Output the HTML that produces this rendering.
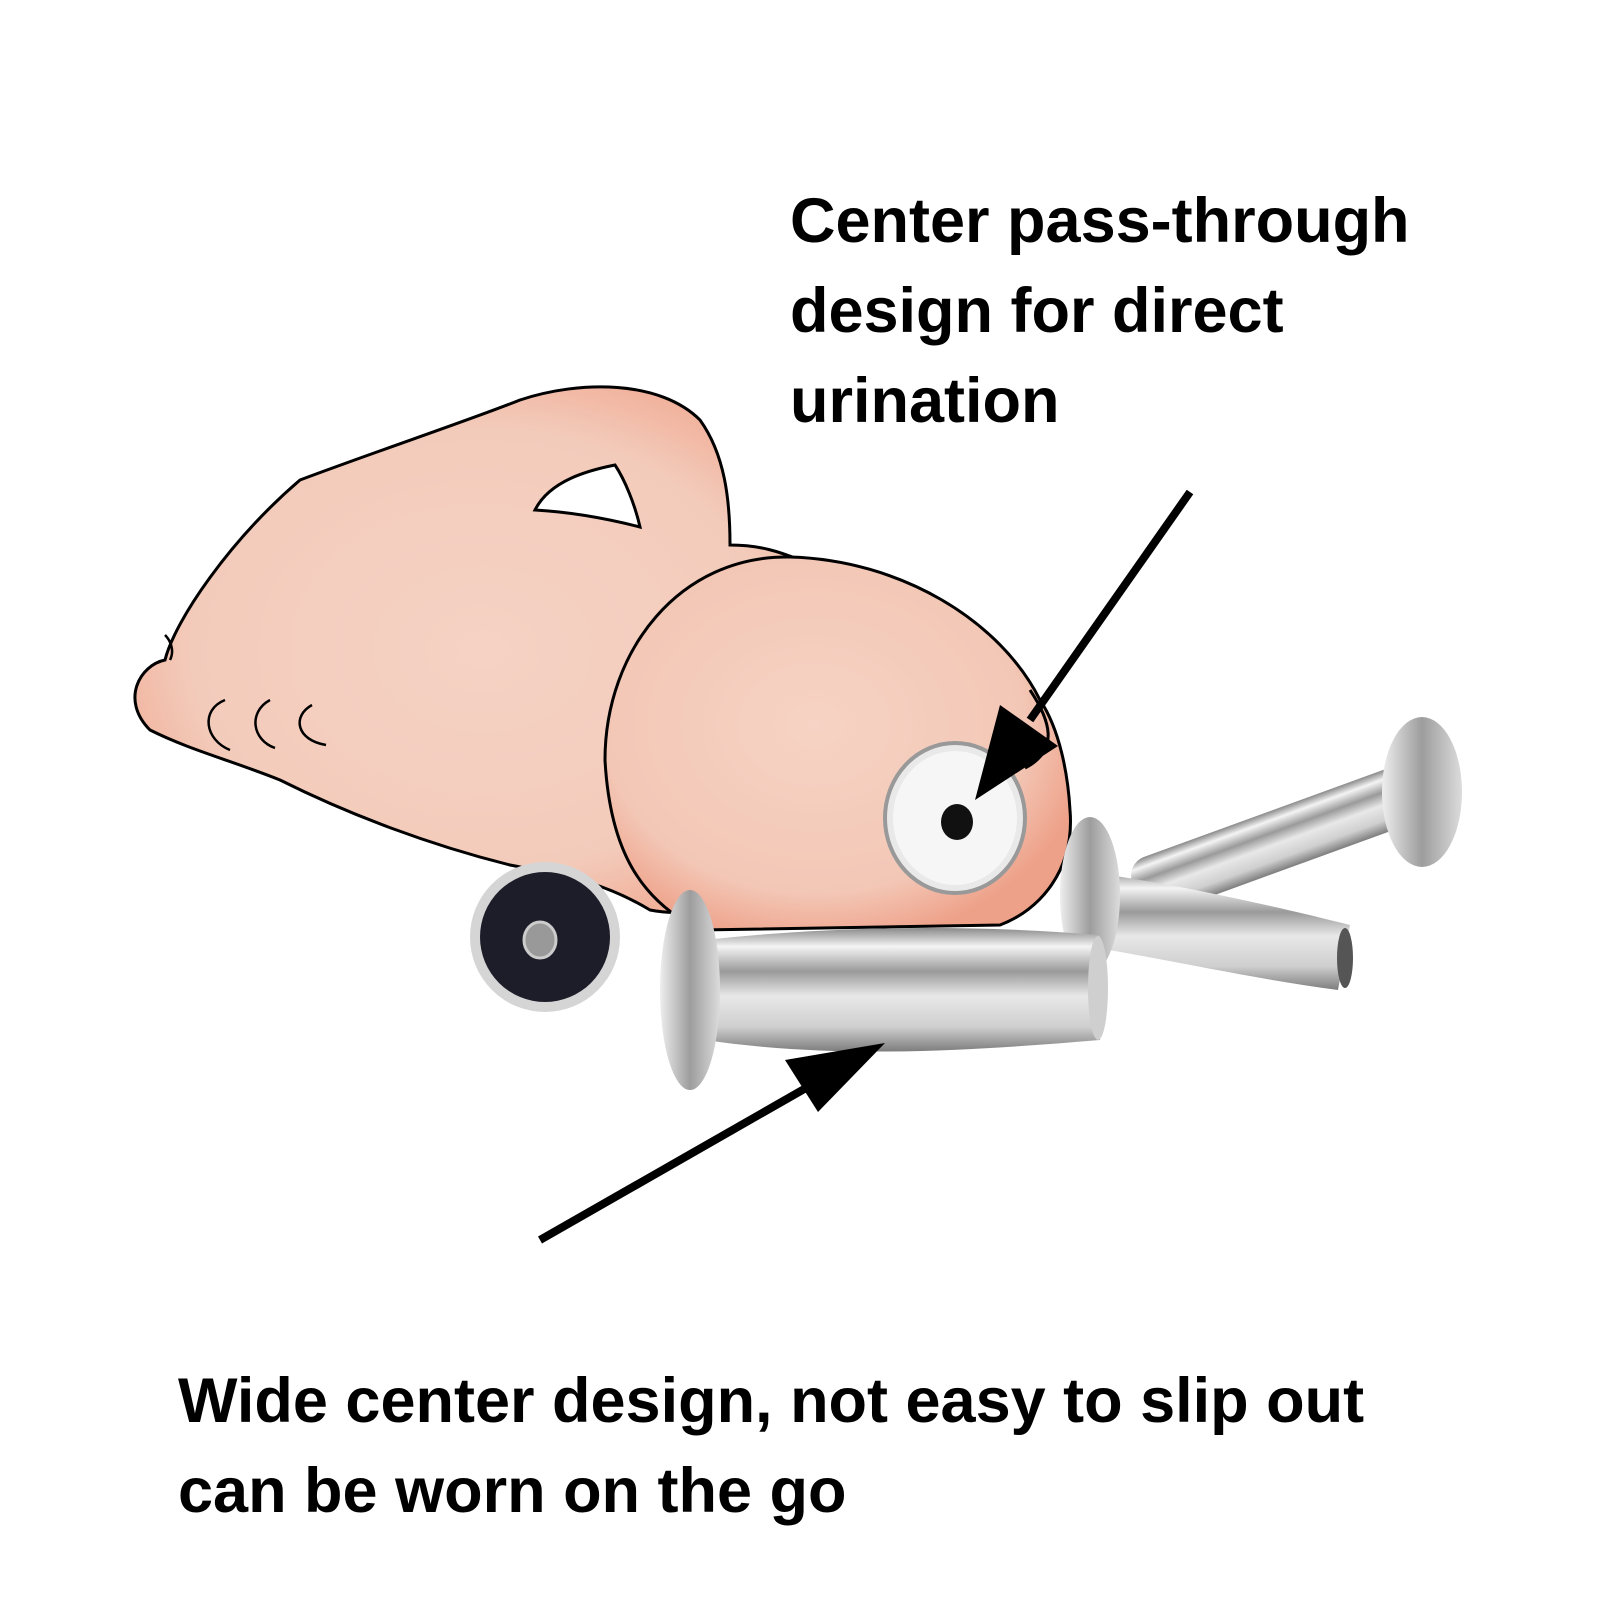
<!DOCTYPE html>
<html><head><style>
html,body{margin:0;padding:0;background:#fff;}
svg{display:block}
text{font-family:"Liberation Sans","DejaVu Sans",sans-serif;font-weight:bold;fill:#000}
</style></head><body>
<svg width="1600" height="1600" viewBox="0 0 1600 1600" xmlns="http://www.w3.org/2000/svg">
<defs>
<radialGradient id="skin" cx="50%" cy="50%" r="60%">
<stop offset="0" stop-color="#f5d2c4"/><stop offset="0.7" stop-color="#f3cbbb"/><stop offset="1" stop-color="#f0a78e"/>
</radialGradient>
<radialGradient id="head" cx="45%" cy="45%" r="60%">
<stop offset="0" stop-color="#f6d3c4"/><stop offset="0.75" stop-color="#f3c7b6"/><stop offset="1" stop-color="#eea189"/>
</radialGradient>
<linearGradient id="metal" x1="0" y1="0" x2="0" y2="1">
<stop offset="0" stop-color="#8a8a8a"/><stop offset="0.15" stop-color="#f4f4f4"/><stop offset="0.35" stop-color="#9a9a9a"/><stop offset="0.55" stop-color="#e8e8e8"/><stop offset="0.8" stop-color="#cfcfcf"/><stop offset="1" stop-color="#7d7d7d"/>
</linearGradient>
<linearGradient id="cap" x1="0" y1="0" x2="1" y2="0">
<stop offset="0" stop-color="#eeeeee"/><stop offset="0.5" stop-color="#9d9d9d"/><stop offset="1" stop-color="#dcdcdc"/>
</linearGradient>
</defs>

<!-- body -->
<path d="M150,730 C120,700 140,665 165,660 C175,620 230,540 300,480 C380,450 470,420 520,400 C580,380 660,380 700,420 C725,455 730,500 730,545 C760,545 780,552 800,560 L830,860 C760,900 700,920 650,910 C600,880 560,875 510,865 C430,845 350,815 280,780 C230,760 190,750 150,730 Z" fill="url(#skin)" stroke="#000" stroke-width="3"/>
<path d="M535,510 C550,480 590,470 615,465 C625,480 635,505 640,527 C605,518 570,512 535,510 Z" fill="#fff" stroke="#000" stroke-width="3"/>
<path d="M225,700 C200,710 205,740 230,750" fill="none" stroke="#000" stroke-width="2.5"/>
<path d="M270,700 C248,712 252,740 275,748" fill="none" stroke="#000" stroke-width="2.5"/>
<path d="M312,705 C292,716 296,740 326,745" fill="none" stroke="#000" stroke-width="2.5"/>
<path d="M170,660 C175,650 170,640 165,635" fill="none" stroke="#000" stroke-width="2.5"/>
<!-- head -->
<path d="M790,557 C900,560 1000,620 1040,700 C1060,730 1068,775 1070,810 C1075,870 1040,910 1000,925 L700,930 C640,900 610,850 605,760 C605,650 680,555 790,557 Z" fill="url(#head)" stroke="#000" stroke-width="3"/>
<path d="M1030,690 C1050,720 1060,750 1025,768" fill="none" stroke="#000" stroke-width="3"/>

<!-- washer on head -->
<ellipse cx="955" cy="818" rx="70" ry="75" fill="#e9e9e9" stroke="#999" stroke-width="4"/>
<ellipse cx="955" cy="818" rx="62" ry="67" fill="#f6f6f6"/>
<ellipse cx="957" cy="822" rx="16" ry="18" fill="#111"/>
<!-- small dark washer -->
<ellipse cx="545" cy="937" rx="75" ry="75" fill="#d5d5d5"/>
<ellipse cx="545" cy="937" rx="65" ry="65" fill="#1d1d2a"/>
<ellipse cx="540" cy="940" rx="16" ry="18" fill="#999" stroke="#ccc" stroke-width="3"/>

<!-- back rod -->
<g transform="rotate(-20 1280 850)">
<rect x="1130" y="810" width="300" height="60" rx="20" fill="url(#metal)"/>
</g>
<ellipse cx="1422" cy="792" rx="40" ry="75" fill="url(#cap)"/>
<!-- middle rod -->
<path d="M1070,870 C1160,880 1270,905 1350,925 L1338,990 C1260,980 1170,960 1080,945 Z" fill="url(#metal)"/>
<ellipse cx="1090" cy="895" rx="30" ry="78" fill="url(#cap)"/>
<ellipse cx="1345" cy="958" rx="8" ry="30" fill="#555"/>
<!-- front rod -->
<path d="M705,940 C840,925 980,925 1100,935 L1100,1040 C980,1050 840,1060 705,1040 Z" fill="url(#metal)"/>
<ellipse cx="690" cy="990" rx="30" ry="100" fill="url(#cap)"/>
<ellipse cx="1098" cy="988" rx="10" ry="52" fill="#cfcfcf"/>

<!-- arrows -->
<line x1="1190" y1="492" x2="1030" y2="720" stroke="#000" stroke-width="8"/>
<polygon points="975,800 1000,705 1058,746" fill="#000"/>
<line x1="540" y1="1240" x2="820" y2="1080" stroke="#000" stroke-width="8"/>
<polygon points="885,1043 785,1060 818,1112" fill="#000"/>

<text x="790" y="242" font-size="63">Center pass-through</text>
<text x="790" y="332" font-size="63">design for direct</text>
<text x="790" y="422" font-size="63">urination</text>
<text x="178" y="1422" font-size="63">Wide center design, not easy to slip out</text>
<text x="178" y="1512" font-size="63">can be worn on the go</text>
</svg>
</body></html>
